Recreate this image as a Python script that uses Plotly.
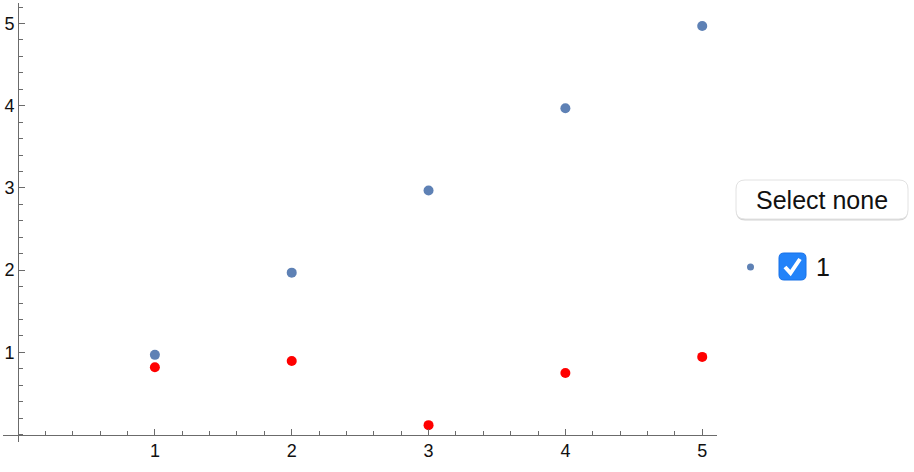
import plotly.graph_objects as go

# data
x_vals = [1, 2, 3, 4, 5]
blue_vals = [0.97, 1.97, 2.97, 3.97, 4.97]
red_vals = [0.82, 0.895, 0.115, 0.75, 0.945]
tick_vals = [1, 2, 3, 4, 5]
legend_label = "1"
button_label = "Select none"

W, H = 914, 472
ML, MR, MT, MB = 3, 197, 3, 30
PW, PH = W - ML - MR, H - MT - MB

x_range = [-0.11, 5.108]
y_range = [-0.09, 5.25]


# pixel -> paper helpers for the hand drawn legend widgets
def px(x):
    return (x - ML) / PW


def py(y):
    return (H - MB - y) / PH


def rounded_rect(x0, y0, x1, y1, r):
    return (f"M {px(x0 + r)},{py(y0)} L {px(x1 - r)},{py(y0)} "
            f"Q {px(x1)},{py(y0)} {px(x1)},{py(y0 + r)} "
            f"L {px(x1)},{py(y1 - r)} Q {px(x1)},{py(y1)} {px(x1 - r)},{py(y1)} "
            f"L {px(x0 + r)},{py(y1)} Q {px(x0)},{py(y1)} {px(x0)},{py(y1 - r)} "
            f"L {px(x0)},{py(y0 + r)} Q {px(x0)},{py(y0)} {px(x0 + r)},{py(y0)} Z")


fig = go.Figure()
fig.add_trace(go.Scatter(x=x_vals, y=blue_vals, mode='markers',
                         marker=dict(size=10, color='#5E81B5'),
                         showlegend=False, hoverinfo='skip'))
fig.add_trace(go.Scatter(x=x_vals, y=red_vals, mode='markers',
                         marker=dict(size=10, color='#FF0000'),
                         showlegend=False, hoverinfo='skip'))

axis_common = dict(showgrid=False, zeroline=False, showline=True,
                   linecolor='#6b6b6b', linewidth=1,
                   ticks='inside', ticklen=6, tickcolor='#6b6b6b',
                   tickvals=tick_vals, ticktext=[str(t) for t in tick_vals],
                   tickfont=dict(family='Liberation Sans, Arial', size=18,
                                 color='#111111'),
                   minor=dict(dtick=0.2, tick0=0, ticks='inside', ticklen=4,
                              tickcolor='#6b6b6b'))

x_pos = (0 - y_range[0]) / (y_range[1] - y_range[0])
y_pos = (0 - x_range[0]) / (x_range[1] - x_range[0])

fig.update_layout(
    width=W, height=H,
    margin=dict(l=ML, r=MR, t=MT, b=MB),
    paper_bgcolor='white', plot_bgcolor='white',
    xaxis=dict(range=x_range, anchor='free', position=x_pos, **axis_common),
    yaxis=dict(range=y_range, anchor='free', position=y_pos, **axis_common),
    showlegend=False,
)

# "Select none" button, with a soft shadow under it
fig.add_shape(type='path', path=rounded_rect(736, 181.5, 908, 220.5, 9),
              xref='paper', yref='paper',
              fillcolor='#d4d4d4', line=dict(width=0))
fig.add_shape(type='path', path=rounded_rect(736, 180, 908, 219, 9),
              xref='paper', yref='paper',
              fillcolor='white', line=dict(color='#e2e2e2', width=1))
fig.add_annotation(x=px(822), y=py(199.5), xref='paper', yref='paper',
                   xanchor='center', yanchor='middle',
                   text=button_label, showarrow=False,
                   font=dict(family='Liberation Sans, Arial', size=25,
                             color='#111111'))

# legend marker
fig.add_shape(type='circle', xref='paper', yref='paper',
              x0=px(747), x1=px(754), y0=py(270.5), y1=py(263.5),
              fillcolor='#5E81B5', line=dict(width=0))

# checkbox
fig.add_shape(type='path', path=rounded_rect(779, 253, 806, 280, 5),
              xref='paper', yref='paper',
              fillcolor='#2383F9', line=dict(color='#1670e8', width=1))
check = f"M {px(785)},{py(267)} L {px(790.5)},{py(273)} L {px(800)},{py(259)}"
fig.add_shape(type='path', path=check, xref='paper', yref='paper',
              line=dict(color='white', width=4))
fig.add_annotation(x=px(814), y=py(267), xref='paper', yref='paper',
                   xanchor='left', yanchor='middle',
                   text=legend_label, showarrow=False,
                   font=dict(family='Liberation Sans, Arial', size=25,
                             color='#111111'))

# page body has a default 8px margin, drop it so the figure sits at 0,0
fig.write_html("out.html", config={'displayModeBar': False},
               post_script="document.body.style.margin='0';")
